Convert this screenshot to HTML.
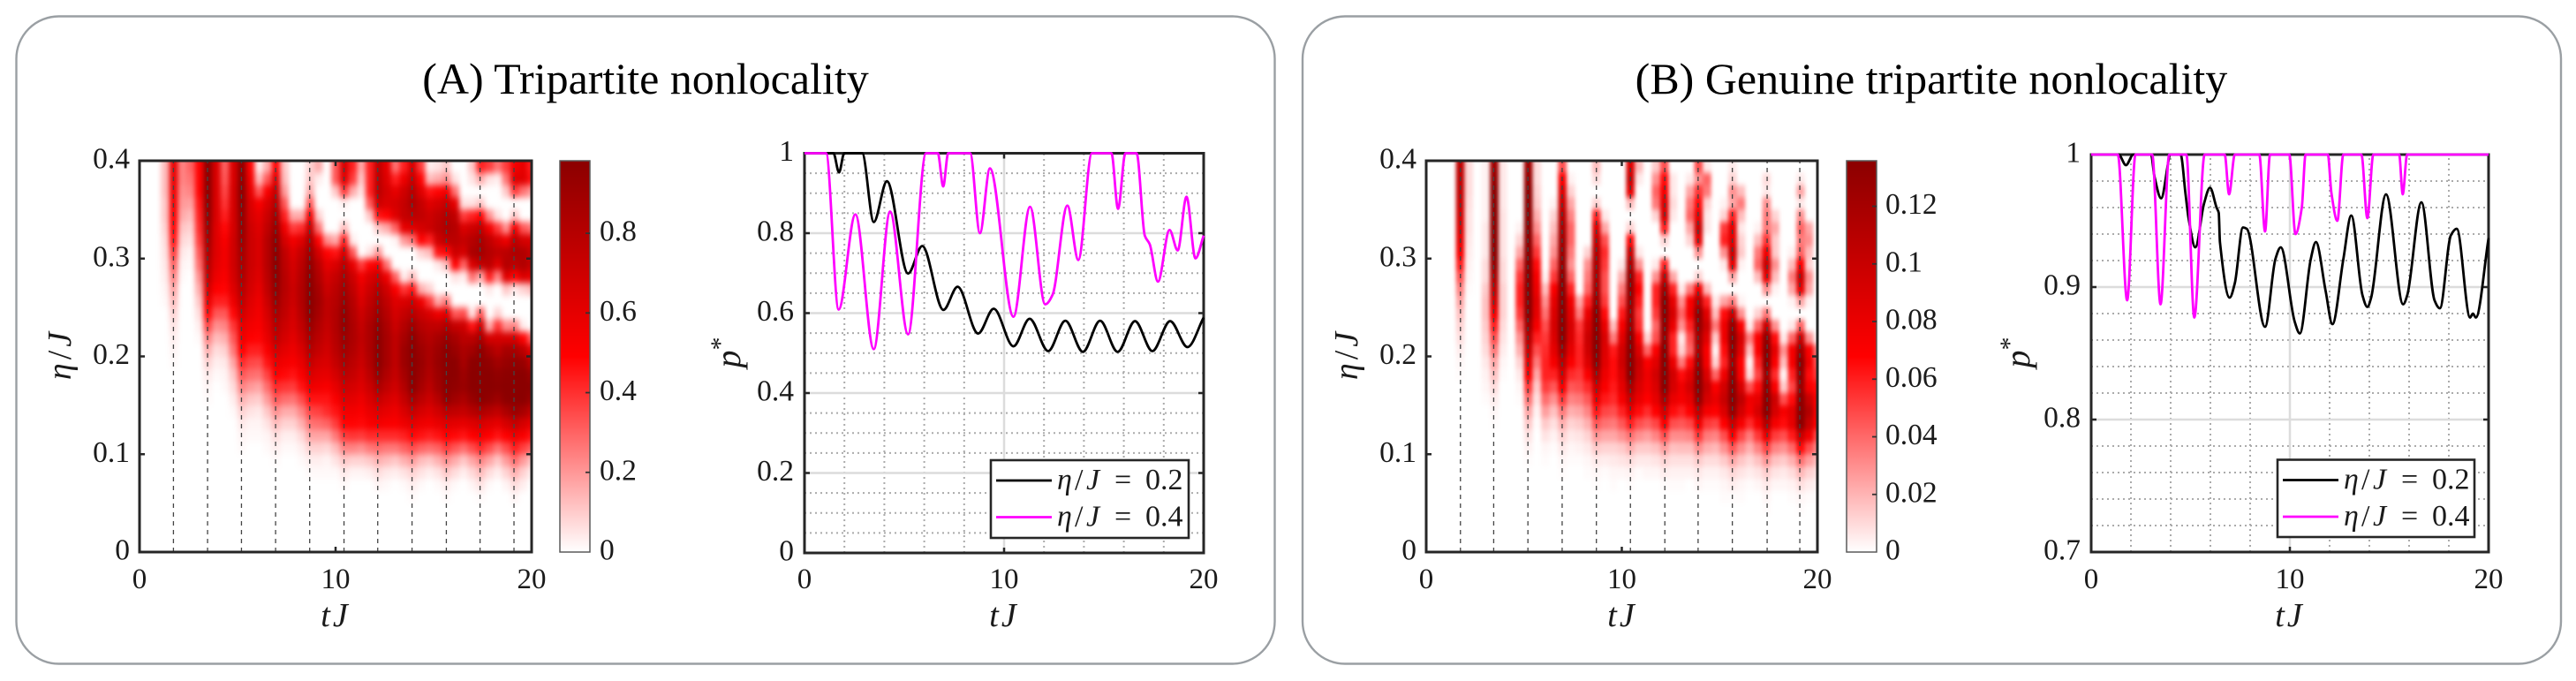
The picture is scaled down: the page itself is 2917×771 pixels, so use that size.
<!DOCTYPE html>
<html lang="en">
<head>
<meta charset="utf-8">
<title>Tripartite nonlocality</title>
<style>
html,body{margin:0;padding:0;background:#fff;}
svg{display:block;font-family:"Liberation Serif",serif;}
text{fill:#1a1a1a;}
</style>
</head>
<body>
<svg id="figure" xmlns="http://www.w3.org/2000/svg" width="2917" height="771" viewBox="0 0 2917 771">
  <defs>
    <filter id="soft-a" filterUnits="userSpaceOnUse" x="100" y="120" width="560" height="560" color-interpolation-filters="sRGB"><feGaussianBlur stdDeviation="3 4"/></filter>
    <filter id="soft-b" filterUnits="userSpaceOnUse" x="1557" y="120" width="560" height="560" color-interpolation-filters="sRGB"><feGaussianBlur stdDeviation="2.2 3.2"/></filter>
    <clipPath id="clip-a"><rect x="158" y="182" width="444" height="443"/></clipPath>
    <clipPath id="clip-b"><rect x="1615" y="182" width="443" height="443"/></clipPath>
    <linearGradient id="cmap" x1="0" y1="1" x2="0" y2="0">
      <stop offset="0" stop-color="#ffffff"/><stop offset="0.5" stop-color="#ff0000"/><stop offset="1" stop-color="#8b0000"/>
    </linearGradient>
  </defs>
  <rect x="0" y="0" width="2917" height="771" fill="#fff"/>
  <rect x="18.5" y="18.5" width="1425" height="733" rx="48" fill="none" stroke="#9a9fa3" stroke-width="2.4"/>
  <rect x="1475" y="18.5" width="1425" height="733" rx="48" fill="none" stroke="#9a9fa3" stroke-width="2.4"/>
  <text x="731" y="106" font-size="50" text-anchor="middle" style="fill:#000">(A) Tripartite nonlocality</text>
  <text x="2187" y="106" font-size="50" text-anchor="middle" style="fill:#000">(B) Genuine tripartite nonlocality</text>

  <text x="380" y="709" font-size="38" font-style="italic" text-anchor="middle" letter-spacing="3">tJ</text>
  <text transform="translate(80,403) rotate(-90)" font-size="38" text-anchor="middle"><tspan font-style="italic">η</tspan><tspan dx="4">/</tspan><tspan dx="4" font-style="italic">J</tspan></text>
  <text x="1137" y="709" font-size="38" font-style="italic" text-anchor="middle" letter-spacing="3">tJ</text>
  <text transform="translate(838,399) rotate(-90)" font-size="40" text-anchor="middle"><tspan font-style="italic">p</tspan><tspan font-size="30" dy="-13">*</tspan></text>
  <text x="1837" y="709" font-size="38" font-style="italic" text-anchor="middle" letter-spacing="3">tJ</text>
  <text transform="translate(1537,403) rotate(-90)" font-size="38" text-anchor="middle"><tspan font-style="italic">η</tspan><tspan dx="4">/</tspan><tspan dx="4" font-style="italic">J</tspan></text>
  <text x="2593" y="709" font-size="38" font-style="italic" text-anchor="middle" letter-spacing="3">tJ</text>
  <text transform="translate(2298,399) rotate(-90)" font-size="40" text-anchor="middle"><tspan font-style="italic">p</tspan><tspan font-size="30" dy="-13">*</tspan></text>
</svg>
<script>
// ---- shared categories and tick labels ----
const tColumns = [0,0.435,0.87,1.305,1.74,2.175,2.61,3.045,3.48,3.915,4.35,4.785,5.22,5.655,6.09,6.525,6.96,7.395,7.83,8.265,8.7,9.135,9.57,10.005,10.44,10.875,11.31,11.745,12.18,12.615,13.05,13.485,13.92,14.355,14.79,15.225,15.66,16.095,16.53,16.965,17.4,17.835,18.27,18.705,19.14,19.575,20];
const etaRows = [0.39375,0.38125,0.36875,0.35625,0.34375,0.33125,0.31875,0.30625,0.29375,0.28125,0.26875,0.25625,0.24375,0.23125,0.21875,0.20625,0.19375,0.18125,0.16875,0.15625,0.14375,0.13125,0.11875,0.10625,0.09375,0.08125,0.06875,0.05625,0.04375,0.03125,0.01875,0.00625];
const dashTimesA = [1.73,3.47,5.2,6.94,8.68,10.43,12.15,13.9,15.65,17.37,19.1];
const dashTimesB = [1.75,3.45,5.2,6.95,8.7,10.44,12.2,13.9,15.65,17.43,19.1];
const xTickValues = [0,10,20];
const xTickLabels = ['0','10','20'];
const heatYTicks = [0,0.1,0.2,0.3,0.4];
const heatYLabels = ['0','0.1','0.2','0.3','0.4'];
const cbarTicksA = [0,0.2,0.4,0.6,0.8];
const cbarLabelsA = ['0','0.2','0.4','0.6','0.8'];
const cbarTicksB = [0,0.02,0.04,0.06,0.08,0.1,0.12];
const cbarLabelsB = ['0','0.02','0.04','0.06','0.08','0.1','0.12'];
const lineATicks = [0,0.2,0.4,0.6,0.8,1];
const lineALabels = ['0','0.2','0.4','0.6','0.8','1'];
const lineBTicks = [0.7,0.8,0.9,1];
const lineBLabels = ['0.7','0.8','0.9','1'];
const legendEtas = ['0.2','0.4'];

// ---- heatmap A: one array per tColumns entry, top row first; omitted trailing rows are 0 ----
const heatA = [
[],[],[],
[12,12,12,10,10,8,6,5,4,3,2,1],
[55,55,52,50,48,45,42,35,28,22,16,12,8,5,3,2,1],
[22,22,20,18,15,10,7,4,2,1],
[28,25,22,17,12,8,5,2,1],
[45,45,45,42,40,38,35,30,26,20,15,10,6,3,1],
[92,92,92,90,88,85,82,78,74,70,62,54,44,33,22,14,8,4,2,1],
[60,60,60,60,60,58,58,58,56,52,46,40,30,20,12,6,3,1],
[28,30,33,36,40,44,48,50,50,48,45,40,30,22,14,8,4,2,1],
[60,60,62,62,62,62,64,64,64,62,58,52,44,36,30,24,16,10,6,3,1],
[90,90,92,90,88,87,85,82,80,78,74,70,64,56,52,46,38,30,22,14,8,4,2,1],
[45,50,55,60,62,65,66,66,66,64,62,58,55,50,46,40,33,26,18,10,5,2,1],
[3,12,30,48,55,58,60,60,60,58,55,52,50,48,45,40,32,25,16,9,4,2,1],
[15,30,48,60,66,70,74,74,74,72,70,66,62,58,54,48,42,34,26,18,10,5,2,1],
[45,58,68,75,82,86,90,92,92,90,88,85,80,75,70,62,54,46,38,30,20,12,6,3,1],
[10,12,18,30,40,52,62,70,72,74,74,72,70,66,62,56,50,44,36,26,15,8,3,1],
[0,0,0,0,15,35,50,58,62,64,66,65,62,60,56,52,48,42,35,25,15,8,3,1],
[0,0,0,0,15,38,58,68,72,75,76,76,74,70,66,60,54,48,42,32,22,14,7,3,1],
[8,10,15,30,50,68,78,84,88,90,91,92,90,85,80,75,68,60,52,42,33,25,16,8,3,1],
[15,3,0,0,8,25,45,62,72,76,80,82,80,76,72,68,62,56,50,42,34,26,16,8,3,1],
[0,0,0,0,0,0,20,45,55,62,66,70,70,68,66,63,60,55,48,42,38,28,16,7,2,1],
[30,30,10,0,0,0,15,42,60,68,72,74,76,76,74,72,68,62,55,48,42,35,24,12,5,1],
[62,58,35,3,0,12,40,62,72,78,82,85,88,88,85,82,78,72,65,58,50,45,35,22,10,4,1],
[40,35,15,0,0,0,3,30,55,66,70,74,76,78,78,76,72,68,62,56,50,45,36,22,8,2],
[15,10,5,0,0,0,0,0,35,50,56,60,65,68,70,68,66,62,58,52,48,44,35,20,8,2],
[40,40,40,30,10,0,0,5,45,60,66,70,74,78,78,78,76,72,66,60,54,48,38,24,10,3],
[70,72,72,65,42,10,0,18,50,66,75,80,84,88,90,90,90,86,78,68,58,50,38,26,14,6,2],
[55,58,62,60,45,15,0,0,25,52,64,70,74,78,80,80,80,76,70,62,55,48,38,24,12,4,1],
[25,40,55,62,58,28,2,0,0,28,48,58,62,66,70,70,70,68,64,58,52,47,38,24,10,3],
[40,52,64,68,68,55,18,0,0,3,36,60,68,75,80,84,84,80,75,68,60,52,40,28,14,5,1],
[62,68,75,78,72,58,25,0,0,12,42,64,74,84,90,95,97,95,90,80,68,56,44,32,18,8,3,1],
[35,45,58,68,70,62,45,8,0,0,14,52,66,74,80,84,86,84,80,72,62,52,42,28,12,5,1],
[3,12,42,58,65,66,40,12,0,0,8,35,60,70,75,78,78,76,72,66,58,50,40,26,10,3],
[5,15,45,62,70,72,65,42,4,0,0,15,52,70,80,84,86,84,82,74,64,54,42,28,14,5,1],
[10,20,50,68,76,78,72,44,12,0,0,24,58,76,86,92,95,97,95,88,72,58,46,35,20,10,3,1],
[0,5,25,55,70,74,72,65,45,5,0,0,30,68,80,85,90,90,88,82,70,56,44,30,15,6,1],
[0,0,0,5,35,60,68,62,28,3,0,0,32,65,72,78,80,84,85,78,68,55,42,26,10,3],
[10,5,0,5,40,65,74,78,60,25,0,0,5,42,72,82,90,92,92,86,74,58,46,32,16,7,2],
[40,15,0,10,45,70,80,82,70,15,0,0,30,65,80,90,95,97,96,92,78,62,50,38,22,12,5,1],
[35,5,0,0,20,50,70,75,72,40,4,0,0,15,62,80,88,92,92,88,74,58,46,32,16,6,1],
[25,3,0,0,5,35,60,70,58,22,0,0,8,36,62,72,82,88,90,84,70,55,42,25,10,3],
[35,25,10,0,0,20,52,72,75,58,10,0,0,20,62,80,86,90,94,90,78,62,46,32,18,8,2],
[50,58,35,0,10,50,72,78,72,45,4,0,0,22,62,80,88,94,98,96,85,68,52,40,26,14,6,2],
[55,58,25,0,0,30,62,76,76,60,8,0,0,3,45,72,86,92,96,92,80,62,48,34,18,8,3],
[40,42,18,0,0,25,60,68,68,55,12,0,0,0,28,55,72,85,90,85,70,55,42,28,10,3]
];

// ---- heatmap B: same layout ----
const heatB = [
[],[],[],[],
[90,90,88,85,80,75,70,62,50,38,28,20,14,10,7,4,2,1],
[8,8,8,7,6,6,5,4,3,2,1],
[],
[3,3,3,3,3,5,5,5,8,8,12,14,14,12,10,8,5,3,2,1],
[105,110,115,120,125,125,120,115,110,100,90,80,65,50,40,30,20,14,8,4,2,1],
[5,5,5,5,6,6,6,6,8,8,10,10,10,8,6,4,2,1],
[],
[0,0,0,0,0,3,10,20,35,45,50,50,45,35,25,18,10,5,2,1],
[105,110,115,115,118,120,125,130,130,130,128,122,115,105,95,85,72,60,45,32,20,12,6,3,1],
[8,8,10,12,18,25,35,45,55,62,66,72,70,62,50,40,30,20,12,7,3,1],
[0,0,0,0,0,0,0,0,0,3,15,25,32,40,45,48,50,50,44,33,22,12,6,2,1],
[0,0,0,3,10,15,20,25,35,45,60,70,75,78,75,70,62,50,38,25,14,7,3,1],
[40,60,75,85,95,100,105,108,110,115,120,125,125,122,115,105,92,78,62,45,30,18,10,5,2,1],
[0,3,10,20,28,35,35,30,25,35,50,65,72,78,76,70,60,48,38,28,18,10,5,2,1],
[0,0,0,0,0,0,0,0,0,0,0,20,30,45,48,50,50,45,40,30,20,12,6,3,1],
[0,0,0,0,0,0,0,10,25,30,35,50,68,78,84,82,75,60,48,38,28,18,10,5,2,1],
[15,8,0,10,50,75,88,95,98,100,102,108,118,124,128,122,112,98,82,68,52,38,24,12,5,2,1],
[0,0,0,0,5,20,40,48,45,40,40,45,55,68,76,74,72,66,60,52,42,32,20,10,4,1],
[0,0,0,0,0,0,0,0,0,0,0,0,0,15,30,52,55,55,52,48,40,30,20,10,5,2,1],
[0,0,0,0,0,0,0,0,5,18,30,40,52,62,72,80,82,76,70,62,50,38,25,12,6,2],
[75,85,70,15,0,10,55,85,100,110,110,108,105,108,115,125,128,118,100,85,68,50,32,18,8,3,1],
[15,5,0,0,0,0,0,5,25,50,58,52,45,48,62,75,85,82,76,68,55,40,25,12,5,1],
[0,0,0,0,0,0,0,0,0,0,0,0,0,0,10,35,60,66,64,58,48,36,22,12,5,2],
[12,25,35,30,10,0,0,0,5,25,50,50,45,35,40,60,72,80,76,70,58,42,28,14,6,2],
[40,55,62,75,78,50,10,0,50,85,105,115,118,112,110,115,122,128,120,100,80,60,40,22,10,4,1],
[0,5,5,8,5,0,0,0,0,20,50,70,78,68,50,50,68,80,78,68,55,40,26,14,7,3,1],
[0,0,0,0,0,0,0,0,0,0,5,25,35,25,5,10,30,55,65,62,50,38,26,15,7,3,1],
[0,5,20,30,35,20,10,0,0,0,30,60,62,50,40,35,55,72,80,70,58,42,28,15,7,3],
[40,25,45,55,70,85,70,25,0,10,65,95,112,110,102,100,108,122,125,110,88,65,45,26,12,5,2],
[5,35,30,10,5,5,0,0,0,0,15,50,72,82,72,60,62,75,85,78,62,45,30,18,8,3,1],
[0,0,0,0,0,0,0,0,0,0,0,5,15,30,12,3,10,35,60,68,58,42,28,16,8,3,1],
[0,0,0,3,10,45,50,25,5,0,0,20,55,65,65,55,50,65,80,85,75,58,40,25,12,5,2,1],
[5,10,25,20,50,70,72,85,70,20,0,30,85,110,118,112,105,112,125,130,110,85,60,38,20,9,4,1],
[0,0,15,30,15,5,10,12,3,0,0,3,25,60,78,72,58,60,78,90,80,62,42,26,13,6,2,1],
[0,0,0,0,0,0,0,0,0,0,0,0,0,5,30,15,3,8,40,65,62,48,30,18,9,4,1],
[0,0,0,0,0,3,15,30,35,15,0,0,10,35,60,60,50,42,55,70,78,62,45,28,14,6,2],
[0,8,5,25,30,30,45,65,85,70,25,0,30,85,112,122,115,105,112,128,120,95,68,42,24,11,5,2,1],
[0,0,0,0,10,20,12,12,25,15,3,0,0,25,55,70,60,48,60,82,78,62,44,28,14,6,2],
[0,0,0,0,0,0,0,0,0,0,0,0,0,0,5,25,15,3,12,40,62,55,40,25,12,5,2],
[0,0,0,0,0,0,0,3,15,30,20,3,0,5,35,62,62,50,42,55,72,70,52,34,18,8,3,1],
[0,5,20,5,25,35,30,35,60,85,70,20,0,35,85,105,115,112,108,118,130,115,85,55,32,16,7,2,1],
[0,0,0,0,0,20,25,15,10,25,20,3,0,0,25,60,65,55,62,85,95,85,65,40,22,10,4,1],
[0,0,0,0,0,0,0,0,0,0,0,0,0,0,3,30,40,45,55,60,62,58,42,28,15,7,3,1]
];

// ---- line series ----
const tA02 = [0,1.45,1.73,1.99,2.89,3.47,4.13,5.19,5.9,6.96,7.67,8.7,9.48,10.47,11.28,12.21,13.07,13.95,14.81,15.69,16.56,17.43,18.32,19.19,20];
const pA02 = [1,1,0.952,1,1,0.828,0.93,0.699,0.768,0.608,0.666,0.549,0.611,0.517,0.586,0.505,0.581,0.503,0.581,0.503,0.58,0.505,0.58,0.515,0.589];
const tA04 = [0,1.08,1.71,2.55,3.47,4.29,5.19,6.09,6.68,6.95,7.2,8.3,8.79,9.29,10.47,11.3,12.06,12.43,13.17,13.72,14.4,15.38,15.71,16.08,16.64,17.05,17.3,17.71,18.29,18.7,19.14,19.59,20];
const pA04 = [1,1,0.609,0.847,0.51,0.854,0.547,1,1,0.917,1,1,0.8,0.962,0.591,0.866,0.622,0.646,0.869,0.733,1,1,0.861,1,1,0.794,0.772,0.679,0.808,0.757,0.891,0.737,0.794];
const tB02 = [0,1.38,1.75,2.12,3.01,3.19,3.52,4.01,4.5,4.75,4.9,5.24,5.68,5.98,6.31,6.42,6.48,6.97,7.23,7.64,7.83,8.75,9.27,9.54,10.24,10.5,11.05,11.31,11.8,12.14,12.69,13.09,13.65,13.9,14.09,14.84,15.7,15.91,16.62,17.28,17.55,18.1,18.4,19.07,19.21,19.36,20];
const pB02 = [1,1,0.992,1,1,0.983,0.967,1,1,0.97,0.952,0.93,0.963,0.975,0.96,0.956,0.934,0.892,0.903,0.945,0.944,0.87,0.921,0.93,0.874,0.865,0.921,0.934,0.897,0.872,0.921,0.954,0.894,0.885,0.892,0.97,0.887,0.894,0.964,0.89,0.884,0.939,0.944,0.877,0.88,0.877,0.937];
const tB04 = [0,1.34,1.81,2.23,3.07,3.49,3.93,4.79,5.19,5.71,6.72,6.94,7.23,8.46,8.75,9,9.97,10.28,10.6,10.79,11.91,12.09,12.39,12.69,13.6,13.9,14.2,15.5,15.68,15.9,20];
const pB04 = [1,1,0.89,1,1,0.887,1,1,0.877,1,1,0.97,1,1,0.942,1,1,0.94,0.96,1,1,0.971,0.95,1,1,0.952,1,1,0.97,1,1];

// ---- helpers ----
const NS = 'http://www.w3.org/2000/svg';
const root = document.getElementById('figure');
function mk(tag, attrs, parent) {
  const e = document.createElementNS(NS, tag);
  for (const k in attrs) e.setAttribute(k, attrs[k]);
  (parent || root).appendChild(e);
  return e;
}
function linear(d0, d1, r0, r1) { return v => r0 + (v - d0) * (r1 - r0) / (d1 - d0); }
function colorOf(f) {
  f = Math.max(0, Math.min(1, f));
  if (f < 0.5) { const c = Math.round(255 * (1 - 2 * f)); return 'rgb(255,' + c + ',' + c + ')'; }
  return 'rgb(' + Math.round(255 - (255 - 139) * (f - 0.5) * 2) + ',0,0)';
}
function monotonePath(xs, ys) {
  const n = xs.length, d = [], m = [];
  for (let i = 0; i < n - 1; i++) d.push((ys[i + 1] - ys[i]) / (xs[i + 1] - xs[i]));
  m.push(d[0]);
  for (let i = 1; i < n - 1; i++) m.push(d[i - 1] * d[i] <= 0 ? 0 : 2 * d[i - 1] * d[i] / (d[i - 1] + d[i]));
  m.push(d[n - 2]);
  let s = 'M' + xs[0].toFixed(2) + ' ' + ys[0].toFixed(2);
  for (let i = 0; i < n - 1; i++) {
    const h = (xs[i + 1] - xs[i]) / 3;
    s += 'C' + (xs[i] + h).toFixed(2) + ' ' + (ys[i] + m[i] * h).toFixed(2) + ' ' + (xs[i + 1] - h).toFixed(2) + ' ' + (ys[i + 1] - m[i + 1] * h).toFixed(2) + ' ' + xs[i + 1].toFixed(2) + ' ' + ys[i + 1].toFixed(2);
  }
  return s;
}
function xTickText(x, label) {
  const t = mk('text', { x: x, y: 666, 'font-size': 33, 'text-anchor': 'middle' });
  
  
  t.textContent = label;
}
function yTickText(x, y, label, anchor) {
  const t = mk('text', { x: x, y: y + 8.5, 'font-size': 33.5, 'text-anchor': anchor });
  
  
  t.textContent = label;
}
function tickMark(x1, y1, x2, y2, color, w) {
  const l = mk('line', { x1: x1, y1: y1, x2: x2, y2: y2, stroke: color, 'stroke-width': w });
  
  
}

// ---- heatmap with colorbar ----
function drawHeat(box, cols, unit, vmax, dashes, filterId, clipId, cbar, cTicks, cLabels, labelRight) {
  const xs = linear(0, 20, box.l, box.r), ys = linear(0, 0.4, box.b, box.t);
  const clip = mk('g', { 'clip-path': 'url(#' + clipId + ')' });
  
  
  const g = mk('g', { filter: 'url(#' + filterId + ')' }, clip);
  
  
  mk('rect', { x: box.l - 40, y: box.t - 40, width: box.r - box.l + 80, height: box.b - box.t + 80, fill: '#fff' }, g);
  const halfT = 0.2175, halfE = 0.00625;
  tColumns.forEach((t, i) => {
    const col = cols[i] || [];
    etaRows.forEach((eta, r) => {
      const v = (col[r] || 0) * unit;
      let x0 = xs(t - halfT), x1 = xs(t + halfT), y0 = ys(eta + halfE), y1 = ys(eta - halfE);
      if (i === tColumns.length - 1) x1 += 30;
      if (i === 0) x0 -= 30;
      if (r === 0) y0 -= 30;
      if (r === etaRows.length - 1) y1 += 30;
      const c = mk('rect', { x: x0.toFixed(2), y: y0.toFixed(2), width: (x1 - x0 + 0.4).toFixed(2), height: (y1 - y0 + 0.4).toFixed(2), fill: colorOf(v / vmax) }, g);
      
      
    });
  });
  dashes.forEach(t => {
    const d = mk('line', { x1: xs(t), x2: xs(t), y1: box.b, y2: box.t, stroke: '#444', 'stroke-width': 1.3, 'stroke-dasharray': '5 5' });
    
    
  });
  heatYTicks.forEach((v, i) => {
    yTickText(box.l - 11, ys(v), heatYLabels[i], 'end');
    if (v > 0 && v < 0.4) {
      tickMark(box.l, ys(v), box.l + 6, ys(v), '#262626', 2.5);
      tickMark(box.r, ys(v), box.r - 6, ys(v), '#262626', 2.5);
    }
  });
  xTickValues.forEach((v, i) => {
    xTickText(xs(v), xTickLabels[i]);
    if (v > 0 && v < 20) {
      tickMark(xs(v), box.b, xs(v), box.b - 6, '#262626', 2.5);
      tickMark(xs(v), box.t, xs(v), box.t + 6, '#262626', 2.5);
    }
  });
  const frame = mk('rect', { x: box.l, y: box.t, width: box.r - box.l, height: box.b - box.t, fill: 'none', stroke: '#262626', 'stroke-width': 3 });
  
  
  // colorbar
  const cy = linear(0, vmax, box.b, box.t);
  const bar = mk('rect', { x: cbar.l, y: box.t, width: cbar.r - cbar.l, height: box.b - box.t, fill: 'url(#cmap)', stroke: '#5a5a5a', 'stroke-width': 1.5 });
  
  
  cTicks.forEach((v, i) => {
    yTickText(labelRight, cy(v), cLabels[i], 'start');
    if (v > 0) tickMark(cbar.r, cy(v), cbar.r - 5, cy(v), '#333', 1.8);
  });
}

// ---- line chart ----
function drawLines(box, ymin, yTicks, yLabels, yMinorStep, ser, legend) {
  const xs = linear(0, 20, box.l, box.r), ys = linear(ymin, 1, box.b, box.t);
  for (let v = 2; v < 20; v += 2) {
    if (v === 10) continue;
    const g = mk('line', { x1: xs(v), x2: xs(v), y1: box.b, y2: box.t, stroke: '#ababab', 'stroke-width': 2, 'stroke-dasharray': '2 4' });
    
    
  }
  for (let k = 1; ymin + k * yMinorStep < 1 - 1e-6; k++) {
    const v = ymin + k * yMinorStep;
    if (yTicks.some(t => Math.abs(t - v) < 1e-6)) continue;
    const g = mk('line', { x1: box.l, x2: box.r, y1: ys(v), y2: ys(v), stroke: '#ababab', 'stroke-width': 2, 'stroke-dasharray': '2 4' });
    
    
  }
  const gx = mk('line', { x1: xs(10), x2: xs(10), y1: box.b, y2: box.t, stroke: '#dcdcdc', 'stroke-width': 2.5 });
  
  
  yTicks.forEach((v, i) => {
    yTickText(box.l - 12, ys(v), yLabels[i], 'end');
    if (v > ymin && v < 1) {
      const g = mk('line', { x1: box.l, x2: box.r, y1: ys(v), y2: ys(v), stroke: '#dcdcdc', 'stroke-width': 2.5 });
      
      
      tickMark(box.l, ys(v), box.l + 6, ys(v), '#262626', 2.5);
      tickMark(box.r, ys(v), box.r - 6, ys(v), '#262626', 2.5);
    }
  });
  const frame = mk('rect', { x: box.l, y: box.t, width: box.r - box.l, height: box.b - box.t, fill: 'none', stroke: '#262626', 'stroke-width': 3 });
  
  
  xTickValues.forEach((v, i) => {
    xTickText(xs(v), xTickLabels[i]);
    if (v > 0 && v < 20) {
      tickMark(xs(v), box.b, xs(v), box.b - 6, '#262626', 2.5);
      tickMark(xs(v), box.t, xs(v), box.t + 6, '#262626', 2.5);
    }
  });
  const colors = ['#000000', '#ff00ff'];
  ser.forEach((s, i) => {
    const p = mk('path', { d: monotonePath(s.t.map(xs), s.p.map(ys)), fill: 'none', stroke: colors[i], 'stroke-width': 2.8, 'stroke-linejoin': 'round' });
    
    
  });
  const lg = mk('rect', { x: legend.l, y: legend.t, width: legend.r - legend.l, height: legend.b - legend.t, fill: '#fff', stroke: '#262626', 'stroke-width': 2.6 });
  
  
  legendEtas.forEach((eta, i) => {
    const y = legend.t + 23 + i * 41.5;
    const x0 = legend.l + 75;
    const sw = mk('line', { x1: legend.l + 6, x2: legend.l + 69, y1: y, y2: y, stroke: colors[i], 'stroke-width': 2.8 });
    
    
    const t = mk('text', { x: x0, y: y + 10, 'font-size': 34 });
    
    
    t.innerHTML = '<tspan font-style="italic">η</tspan><tspan x="' + (x0 + 20) + '">/</tspan><tspan x="' + (x0 + 33) + '" font-style="italic">J</tspan><tspan x="' + (x0 + 65) + '">=</tspan><tspan x="' + (x0 + 100) + '">' + eta + '</tspan>';
  });
}

drawHeat({ l: 158, r: 602, t: 182, b: 625 }, heatA, 0.0108, 0.982, dashTimesA, 'soft-a', 'clip-a', { l: 634, r: 668 }, cbarTicksA, cbarLabelsA, 679);
drawLines({ l: 911, r: 1363, t: 173.5, b: 626 }, 0, lineATicks, lineALabels, 0.05,
  [{ t: tA02, p: pA02 }, { t: tA04, p: pA04 }], { l: 1122, r: 1346, t: 521, b: 609 });
drawHeat({ l: 1615, r: 2058, t: 182, b: 625 }, heatB, 0.00118, 0.1358, dashTimesB, 'soft-b', 'clip-b', { l: 2091, r: 2125 }, cbarTicksB, cbarLabelsB, 2135);
drawLines({ l: 2368, r: 2818, t: 175, b: 625 }, 0.7, lineBTicks, lineBLabels, 0.02,
  [{ t: tB02, p: pB02 }, { t: tB04, p: pB04 }], { l: 2579, r: 2802, t: 520.5, b: 608 });
</script>
</body>
</html>
